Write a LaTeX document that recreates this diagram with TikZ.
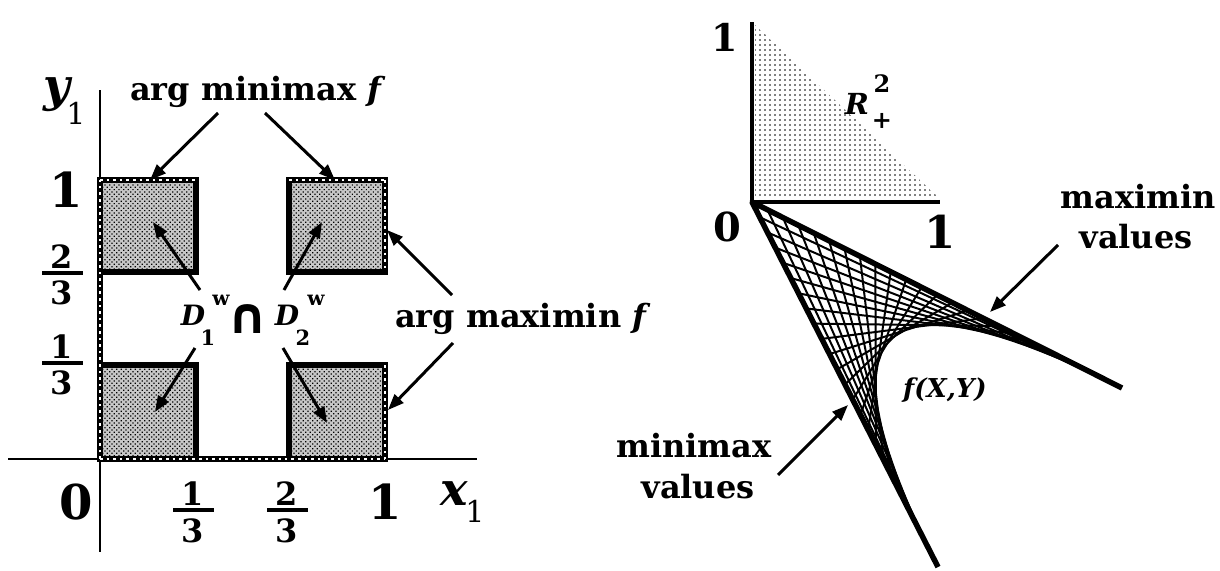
\documentclass[tikz,border=0pt]{standalone}
\usepackage{fontspec}
\setmainfont{DejaVu Serif}
\newfontfamily\capfont{DejaVu Sans}
\usetikzlibrary{arrows.meta,patterns.meta,calc}
\tikzset{
  arr/.style={line width=3pt,-{Triangle[length=16pt,width=12pt]}},
  edgebk/.style={line width=6pt,line cap=rect,line join=miter},
  hatchbk/.style={line width=6.5pt,line cap=rect},
  hatchwt/.style={white,line width=1.3pt,dash pattern=on 2.6pt off 4pt},
  axisln/.style={line width=2.2pt},
  txt/.style={inner sep=0pt,font=\fontsize{32pt}{36pt}\selectfont\bfseries},
  bignum/.style={inner sep=0pt,font=\fontsize{48pt}{48pt}\selectfont\bfseries},
  fnum/.style={inner sep=0pt,font=\fontsize{32pt}{32pt}\selectfont\bfseries},
  fbar/.style={fill=black,minimum width=41pt,minimum height=4pt,inner sep=0pt},
  varbig/.style={inner sep=0pt,font=\fontsize{46pt}{46pt}\selectfont\bfseries\itshape},
  subnum/.style={inner sep=0pt,font=\fontsize{30pt}{30pt}\selectfont},
  dvar/.style={inner sep=0pt,font=\fontsize{28pt}{28pt}\selectfont\bfseries\itshape},
  dsup/.style={inner sep=0pt,font=\fontsize{20pt}{20pt}\selectfont\bfseries},
  dsub/.style={inner sep=0pt,font=\fontsize{21pt}{21pt}\selectfont\bfseries},
  capsym/.style={inner sep=0pt,font=\fontsize{50pt}{50pt}\capfont\bfseries},
  rvar/.style={inner sep=0pt,font=\fontsize{29pt}{29pt}\selectfont\bfseries\itshape},
  rscr/.style={inner sep=0pt,font=\fontsize{24pt}{24pt}\selectfont\bfseries},
  rnum1/.style={inner sep=0pt,font=\fontsize{38pt}{38pt}\selectfont\bfseries},
  rnum2/.style={inner sep=0pt,font=\fontsize{40pt}{40pt}\selectfont\bfseries},
  rnum3/.style={inner sep=0pt,font=\fontsize{45pt}{45pt}\selectfont\bfseries},
  fxyst/.style={inner sep=0pt,font=\fontsize{26pt}{26pt}\selectfont\bfseries\itshape},
  sq/.style={fill=black!22},
  sqdots/.style={pattern={Dots[radius=0.85pt,distance=3.3pt,angle=45]}},
  tridots/.style={pattern={Dots[radius=0.8pt,distance=5pt]}},
  mesh/.style={line width=2pt},
}
\begin{document}
\begin{tikzpicture}[x=1pt,y=1pt,yscale=-1]
\fill[white] (0,0) rectangle (1220,570);
\useasboundingbox (0,0) rectangle (1220,570);

% ---------------- left plot ----------------
\draw[axisln] (100,90) -- (100,552);
\draw[axisln] (8,459) -- (477,459);

\foreach \a/\b/\c/\d in {100/180/196/272, 289/180/385/272, 100/365/196/459, 289/365/385/459}{
  \fill[sq] (\a,\b) rectangle (\c,\d);
  \fill[sqdots] (\a,\b) rectangle (\c,\d);
}
\draw[edgebk] (196,180) -- (196,272) -- (100,272);
\draw[edgebk] (289,180) -- (289,272) -- (385,272);
\draw[edgebk] (100,365) -- (196,365) -- (196,459);
\draw[edgebk] (385,365) -- (289,365) -- (289,459);
\foreach \xa/\ya/\xb/\yb in {100/459/100/180, 100/459/385/459, 100/180/196/180, 289/180/385/180, 385/180/385/272, 385/365/385/459}{
  \draw[hatchbk] (\xa,\ya) -- (\xb,\yb);
}
\foreach \xa/\ya/\xb/\yb in {100/459/100/180, 100/459/385/459, 100/180/196/180, 289/180/385/180, 385/180/385/272, 385/365/385/459}{
  \draw[hatchwt] (\xa,\ya) -- (\xb,\yb);
}

\node[varbig] (ylab) at (57,95) {y};
\node[subnum] (ysub) at (76,113) {1};
\node[varbig] (xlab) at (454,494) {x};
\node[subnum] (xsub) at (475,511) {1};

\node[bignum] (yone) at (66,190) {1};
\node[bignum] (xzero) at (76,502) {0};
\node[bignum] (xone) at (385,502) {1};

\node[fnum] (f23n) at (62,257) {2};
\node[fbar] (f23b) at (62,273) {};
\node[fnum] (f23d) at (62,293) {3};
\node[fnum] (f13n) at (62,347) {1};
\node[fbar] (f13b) at (62,363) {};
\node[fnum] (f13d) at (62,383) {3};
\node[fnum] (g13n) at (193,494) {1};
\node[fbar] (g13b) at (193,510) {};
\node[fnum] (g13d) at (193,531) {3};
\node[fnum] (g23n) at (287,494) {2};
\node[fbar] (g23b) at (287,510) {};
\node[fnum] (g23d) at (287,531) {3};

\node[txt,anchor=base] (amm) at (258,100) {arg minimax \textit{f}};
\node[txt,anchor=base] (amx) at (523,327) {arg maximin \textit{f}};

\node[dvar] (d1) at (193,315) {D};
\node[dsup] (d1w) at (221,300) {w};
\node[dsub] (d1s) at (208,338) {1};
\node[capsym] (capn) at (248,319) {∩};
\node[dvar] (d2) at (287,315) {D};
\node[dsup] (d2w) at (316,300) {w};
\node[dsub] (d2s) at (303,338) {2};

\coordinate (a1s) at (218,113); \coordinate (a1e) at (150,180);
\coordinate (a2s) at (265,113); \coordinate (a2e) at (335,180);
\coordinate (a3s) at (200,290); \coordinate (a3e) at (153,222);
\coordinate (a4s) at (284,290); \coordinate (a4e) at (322,222);
\coordinate (a5s) at (195,348); \coordinate (a5e) at (155,412);
\coordinate (a6s) at (283,348); \coordinate (a6e) at (327,423);
\coordinate (a7s) at (452,295); \coordinate (a7e) at (387,230);
\coordinate (a8s) at (453,343); \coordinate (a8e) at (388,410);
\foreach \i in {1,...,8}{\draw[arr] (a\i s) -- (a\i e);}

% ---------------- right plot ----------------
\coordinate (O) at (752,202);
\coordinate (L) at (938,567);
\coordinate (U) at (1122,388);
\fill[tridots] (755,25) -- (755,199) -- (940,199) -- cycle;
\draw[line width=4pt,line join=miter] (752,22) -- (O) -- (940,202);

\foreach \k in {1,...,23}{
  \pgfmathsetmacro\tt{\k/24}
  \pgfmathsetmacro\ss{1-\k/24}
  \draw[mesh] ($(O)!\tt!(L)$) -- ($(O)!\ss!(U)$);
}
\draw[line width=5.5pt,line join=round] (L) -- (O) -- (U);

\node[rnum1] (rone) at (725,37) {1};
\node[rnum2] (rzero) at (727,227) {0};
\node[rnum3] (rxone) at (940,232) {1};

\node[rvar] (rr) at (857,104) {R};
\node[rscr] (rsup) at (882,84) {2};
\node[rscr] (rsub) at (882,121) {+};

\node[fxyst] (fxy) at (945,390) {f(X,Y)};

\node[txt,anchor=base] (mxv1) at (1138,208) {maximin};
\node[txt,anchor=base] (mxv2) at (1136,248) {values};
\node[txt,anchor=base] (mnv1) at (694,457) {minimax};
\node[txt,anchor=base] (mnv2) at (698,498) {values};

\coordinate (b1s) at (1058,245); \coordinate (b1e) at (990,312);
\coordinate (b2s) at (778,475); \coordinate (b2e) at (848,405);
\draw[arr] (b1s) -- (b1e);
\draw[arr] (b2s) -- (b2e);
\end{tikzpicture}
\end{document}
